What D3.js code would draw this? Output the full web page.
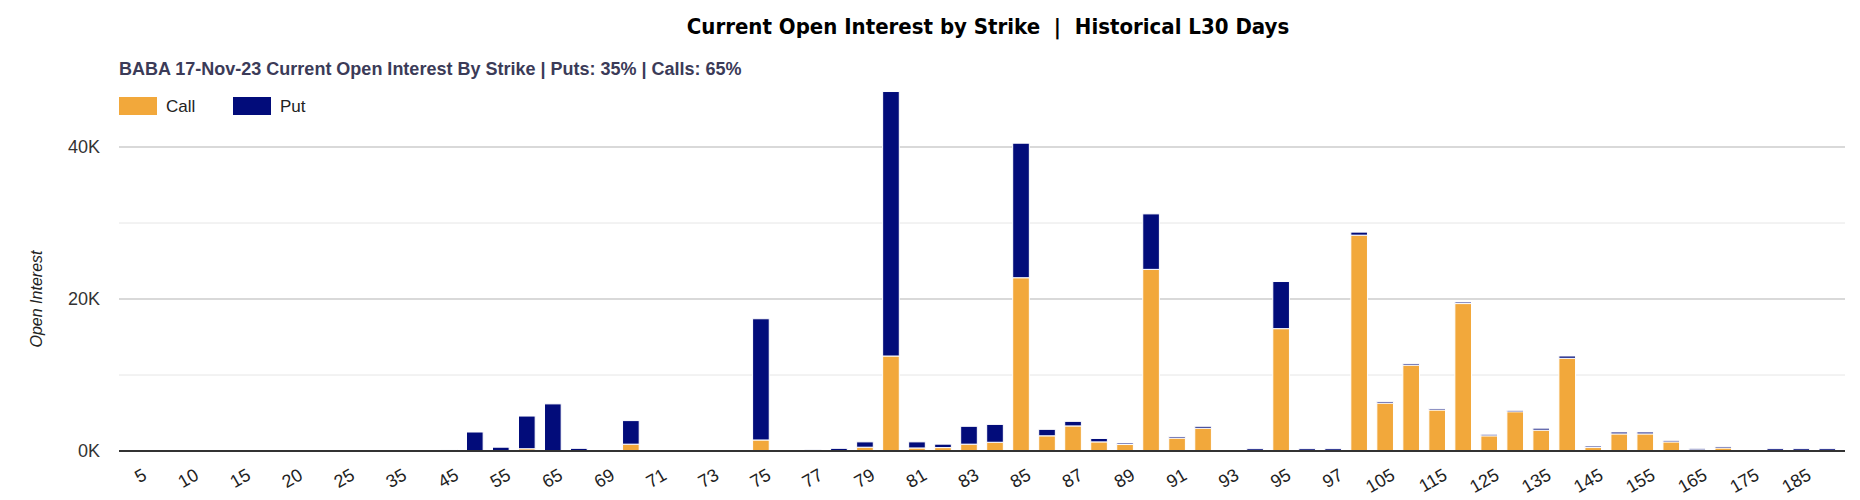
<!DOCTYPE html>
<html>
<head>
<meta charset="utf-8">
<script src="https://cdn.jsdelivr.net/npm/d3@7"></script>
<style>
  body { margin: 0; background: #fff; font-family: "Liberation Sans", Arial, sans-serif; }
</style>
</head>
<body>
<svg id="chart" width="1860" height="500"></svg>
<script>
// strikes, call and put open interest
var strikes = [5, 7.5, 10, 12.5, 15, 17.5, 20, 22.5, 25, 30, 35, 40, 45, 50, 55, 60, 65, 67, 69, 70,
  71, 72, 73, 74, 75, 76, 77, 78, 79, 80, 81, 82, 83, 84, 85, 86, 87, 88, 89, 90,
  91, 92, 93, 94, 95, 96, 97, 100, 105, 110, 115, 120, 125, 130, 135, 140, 145, 150, 155, 160,
  165, 170, 175, 180, 185, 190];
var calls = [0, 0, 0, 0, 0, 0, 0, 0, 0, 0, 0, 0, 0, 0, 0, 300, 0, 0, 0, 900,
  0, 0, 0, 0, 1450, 0, 0, 0, 500, 12500, 400, 450, 900, 1150, 22800, 2000, 3300, 1200, 900, 23900,
  1700, 3000, 0, 0, 16100, 0, 0, 28400, 6300, 11300, 5400, 19400, 2000, 5200, 2750, 12200, 500, 2250, 2250, 1200,
  200, 400, 0, 0, 0, 0];
var puts = [0, 0, 0, 0, 0, 0, 0, 0, 0, 0, 0, 0, 200, 2500, 500, 4300, 6200, 350, 0, 3100,
  0, 0, 0, 100, 15950, 0, 150, 350, 700, 34800, 800, 450, 2350, 2350, 17700, 850, 600, 450, 150, 7300,
  200, 250, 0, 300, 6200, 300, 300, 400, 200, 200, 200, 200, 200, 150, 250, 300, 150, 250, 250, 200,
  150, 200, 0, 300, 300, 300];
var yTicks = [0, 20000, 40000];
var yMinor = [10000, 30000];

var callColor = '#F2A83B', putColor = '#020C7A';

var svg = d3.select('#chart');
var left = 119, right = 1845, base = 451;

var x = d3.scaleBand().domain(strikes.map(String)).range([left, right]).padding(0.36);
var y = d3.scaleLinear().domain([0, 40000]).range([base, 147]);

var rows = strikes.map(function (s, i) { return { strike: String(s), call: calls[i], put: puts[i] }; });
var stacked = d3.stack().keys(['call', 'put'])(rows);

/** titles */
svg.append('text').attr('x', 988).attr('y', 34).attr('text-anchor', 'middle')
  .style('white-space', 'pre')
  .style('font-family', '"DejaVu Sans Condensed", "Liberation Sans Narrow", sans-serif')
  .style('font-size', '22px').style('font-weight', 'bold').style('fill', '#000')
  .text('Current Open Interest by Strike  |  Historical L30 Days');
svg.append('text').attr('x', 119).attr('y', 75)
  .style('font-size', '18px').style('font-weight', 'bold').style('fill', '#3b3b58')
  .text('BABA 17-Nov-23 Current Open Interest By Strike | Puts: 35% | Calls: 65%');

/** legend */
var legend = [['Call', callColor, 119], ['Put', putColor, 233]];
legend.forEach(function (l) {
  svg.append('rect').attr('x', l[2]).attr('y', 97).attr('width', 38).attr('height', 18).attr('fill', l[1]);
  svg.append('text').attr('x', l[2] + 47).attr('y', 112).style('font-size', '17px').style('fill', '#222').text(l[0]);
});

/** grid */
svg.selectAll('.minor').data(yMinor).enter().append('line')
  .attr('x1', left).attr('x2', right).attr('y1', function (d) { return y(d); }).attr('y2', function (d) { return y(d); })
  .attr('stroke', '#e6e6e6').attr('stroke-width', 1);
svg.selectAll('.major').data(yTicks.slice(1)).enter().append('line')
  .attr('x1', left).attr('x2', right).attr('y1', function (d) { return y(d); }).attr('y2', function (d) { return y(d); })
  .attr('stroke', '#cccccc').attr('stroke-width', 1.5);
svg.selectAll('.ylab').data(yTicks).enter().append('text')
  .attr('x', 100).attr('y', function (d) { return y(d) + 6; }).attr('text-anchor', 'end')
  .style('font-size', '18px').style('fill', '#333')
  .text(function (d) { return (d / 1000) + 'K'; });
svg.append('text').attr('transform', 'translate(42,' + y(20000) + ') rotate(-90)')
  .attr('text-anchor', 'middle').style('font-size', '16px').style('font-style', 'italic').style('fill', '#222')
  .text('Open Interest');

/** bars */
svg.selectAll('g.series').data(stacked).enter().append('g')
  .attr('fill', function (d) { return d.key === 'call' ? callColor : putColor; })
  .selectAll('rect').data(function (d) { return d; }).enter().append('rect')
  .filter(function (d) { return d[1] - d[0] > 0; })
  .attr('x', function (d) { return x(d.data.strike); })
  .attr('width', x.bandwidth())
  .attr('y', function (d) { return y(d[1]); })
  .attr('height', function (d) { return Math.max(1.5, y(d[0]) - y(d[1])); })
  .attr('stroke', '#fff').attr('stroke-width', 1);

/** x axis */
svg.append('line').attr('x1', left).attr('x2', right).attr('y1', base).attr('y2', base)
  .attr('stroke', '#333').attr('stroke-width', 2);
svg.selectAll('.xlab').data(strikes.filter(function (d, i) { return i % 2 === 0; })).enter().append('text')
  .attr('transform', function (d) {
    return 'translate(' + (x(String(d)) + x.bandwidth() / 2 + 8) + ',' + (base + 22) + ') rotate(-30)';
  })
  .attr('text-anchor', 'end').attr('dy', '0.35em')
  .style('font-size', '18px').style('fill', '#222')
  .text(function (d) { return d; });
</script>
</body>
</html>
